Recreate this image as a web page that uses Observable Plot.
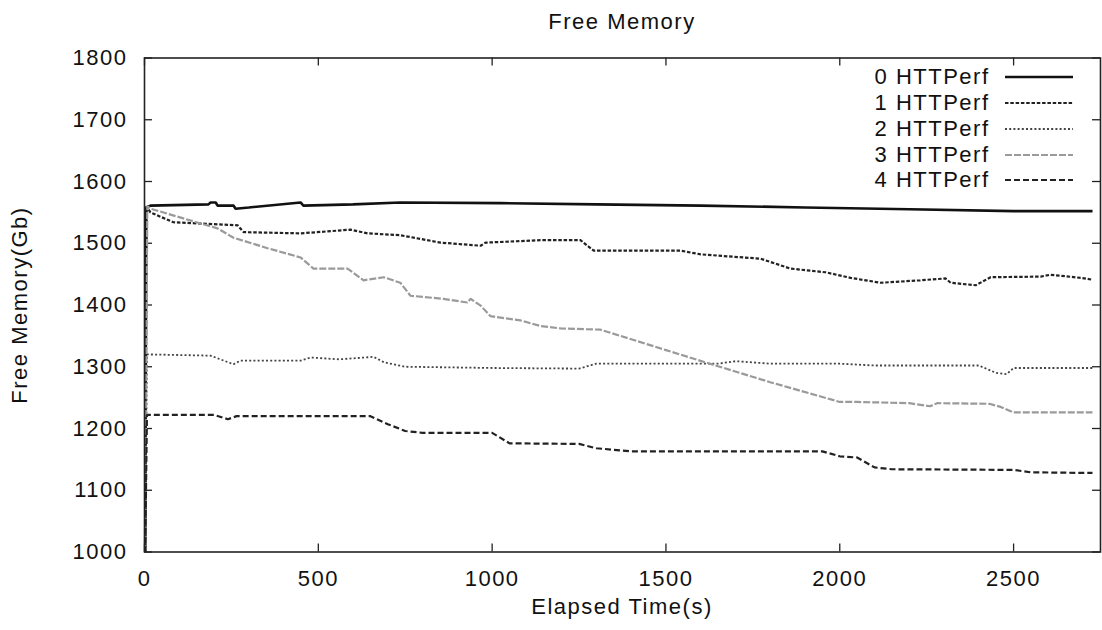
<!DOCTYPE html>
<html><head><meta charset="utf-8">
<script src="https://cdn.jsdelivr.net/npm/d3@7"></script>
<script src="https://cdn.jsdelivr.net/npm/@observablehq/plot@0.6"></script>
<style>
body{margin:0;background:#fff;}
#wrap{position:relative;width:1102px;height:630px;font-family:"Liberation Sans",Arial,sans-serif;color:#111;overflow:hidden;}
.t{position:absolute;font-size:22px;letter-spacing:1.5px;white-space:nowrap;line-height:1;}
</style></head><body><div id="wrap"></div>
<script>
// ---- data ----
const seriesNames = ["0 HTTPerf","1 HTTPerf","2 HTTPerf","3 HTTPerf","4 HTTPerf"];
const xTicks = [0,500,1000,1500,2000,2500];
const yTicks = [1000,1100,1200,1300,1400,1500,1600,1700,1800];

const time0 = [2,5,17,184,190,205,210,256,262,300,449,457,600,736,1024,1300,1600,1900,2200,2500,2727];
const mem0  = [1000,1558,1561,1563,1566,1566,1561,1561,1556,1558,1566,1561,1563,1566,1565,1563,1561,1558,1555,1552,1552];

const time1 = [2,6,17,83,268,285,449,593,642,736,852,967,981,1139,1254,1292,1542,1600,1772,1858,1959,2031,2117,2232,2304,2319,2391,2434,2578,2606,2693,2727];
const mem1  = [1000,1560,1550,1534,1529,1518,1516,1522,1516,1513,1501,1496,1501,1505,1505,1488,1488,1482,1475,1459,1453,1444,1436,1440,1443,1436,1432,1445,1446,1449,1444,1441];

const time2 = [2,7,190,256,276,449,478,560,659,690,750,1000,1250,1300,1650,1700,1750,1800,2000,2100,2400,2450,2480,2500,2727];
const mem2  = [1000,1320,1318,1304,1310,1310,1315,1312,1316,1307,1300,1298,1297,1305,1305,1309,1307,1305,1305,1302,1302,1290,1288,1298,1298];

const time3 = [2,8,17,210,256,354,449,486,584,630,688,736,765,860,929,938,967,995,1082,1139,1197,1312,1500,1620,1800,2000,2050,2200,2260,2280,2430,2463,2500,2727];
const mem3  = [1000,1560,1556,1524,1509,1492,1477,1459,1459,1440,1445,1436,1415,1410,1404,1410,1399,1382,1375,1366,1362,1360,1327,1306,1275,1243,1243,1241,1236,1241,1240,1235,1226,1226];

const time4 = [2,7,200,240,265,500,650,700,750,800,1000,1050,1250,1300,1400,1950,2000,2050,2100,2150,2500,2550,2727];
const mem4  = [1000,1222,1222,1215,1220,1220,1220,1207,1196,1193,1193,1176,1175,1168,1163,1163,1155,1153,1137,1134,1133,1129,1128];

const times = [time0,time1,time2,time3,time4];
const mems  = [mem0,mem1,mem2,mem3,mem4];
const styles = [
  {stroke:"#111", strokeWidth:2.6, dash:null},
  {stroke:"#222", strokeWidth:2.2, dash:"3.5,1.8"},
  {stroke:"#444", strokeWidth:1.8, dash:"2,2.2"},
  {stroke:"#9a9a9a", strokeWidth:2.2, dash:"7,2"},
  {stroke:"#222", strokeWidth:2.2, dash:"6,3"}
];

// ---- layout ----
const W = 1102, H = 630, mL = 144, mR = 2, mT = 57.5, mB = 78.5;
const innerH = H - mT - mB, innerW = W - mL - mR;
const fmt = d => String(d);

const rows = seriesNames.map((name, i) => times[i].map((t, j) => ({series: name, t, v: mems[i][j]})));

const tickStyle = {stroke:"#222", strokeWidth:1.3};
const chart = Plot.plot({
  width: W, height: H,
  marginLeft: mL, marginRight: mR, marginTop: mT, marginBottom: mB,
  style: {fontFamily: '"Liberation Sans", Arial, sans-serif', fontSize: "22px", letterSpacing: "1.5px", color: "#111", background: "#fff"},
  x: {domain: [0, 2750]},
  y: {domain: [1000, 1800]},
  marks: [
    Plot.axisX(xTicks, {tickSize: 0, tickPadding: 18, tickFormat: fmt, label: null}),
    Plot.axisY(yTicks, {tickSize: 0, tickPadding: 17, tickFormat: fmt, label: null}),
    Plot.tickX(xTicks, {x: d => d, insetTop: innerH - 8, ...tickStyle}),
    Plot.tickX(xTicks, {x: d => d, insetBottom: innerH - 8, ...tickStyle}),
    Plot.tickY(yTicks, {y: d => d, insetRight: innerW - 8, ...tickStyle}),
    Plot.tickY(yTicks, {y: d => d, insetLeft: innerW - 8, ...tickStyle}),
    ...rows.map((r, i) => Plot.line(r, {x: "t", y: "v", stroke: styles[i].stroke, strokeWidth: styles[i].strokeWidth, strokeDasharray: styles[i].dash, strokeLinejoin: "miter", strokeLinecap: "butt"})),
    Plot.frame({stroke: "#222", strokeWidth: 1.6})
  ]
});
const wrap = document.getElementById("wrap");
chart.style.position = "absolute"; chart.style.left = "0px"; chart.style.top = "0px";
wrap.appendChild(chart);

function addText(txt, css) {
  const d = document.createElement("div");
  d.className = "t"; d.textContent = txt;
  Object.assign(d.style, css);
  wrap.appendChild(d);
  return d;
}
const plotCx = mL + innerW / 2;
addText("Free Memory", {left: plotCx + "px", top: "11px", transform: "translateX(-50%)"});
addText("Elapsed Time(s)", {left: plotCx + "px", top: "596px", transform: "translateX(-50%)"});
addText("Free Memory(Gb)", {left: "20px", top: (mT + innerH / 2) + "px", transform: "translate(-50%,-50%) rotate(-90deg)"});

// legend
const rowY = [77, 103, 129, 155, 180];
const ns = "http://www.w3.org/2000/svg";
const lg = document.createElementNS(ns, "svg");
lg.setAttribute("width", W); lg.setAttribute("height", H);
lg.style.position = "absolute"; lg.style.left = "0"; lg.style.top = "0";
seriesNames.forEach((name, i) => {
  addText(name, {right: "112.5px", top: (rowY[i] - 10.8) + "px"});
  const ln = document.createElementNS(ns, "line");
  ln.setAttribute("x1", 1005); ln.setAttribute("x2", 1073);
  ln.setAttribute("y1", rowY[i]); ln.setAttribute("y2", rowY[i]);
  ln.setAttribute("stroke", styles[i].stroke);
  ln.setAttribute("stroke-width", styles[i].strokeWidth);
  if (styles[i].dash) ln.setAttribute("stroke-dasharray", styles[i].dash);
  lg.appendChild(ln);
});
wrap.appendChild(lg);
</script></body></html>
